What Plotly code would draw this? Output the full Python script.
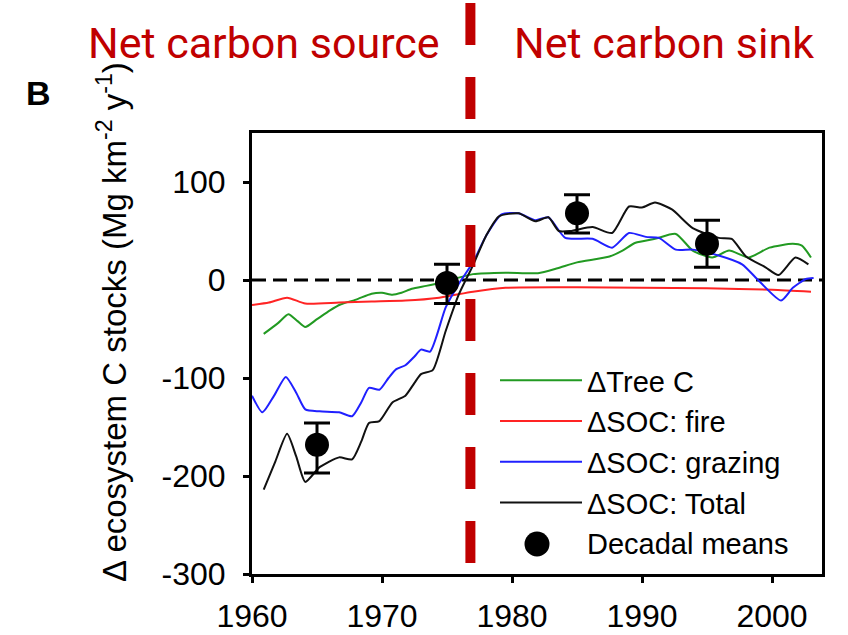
import plotly.graph_objects as go

# ---------------- data ----------------
tree_years = [1960.9, 1962.0, 1962.8, 1963.5, 1964.1, 1965.0, 1966.0, 1966.8, 1968.0, 1969.2,
              1970.0, 1970.8, 1971.5, 1972.3, 1973.4, 1974.4, 1975.5, 1977.0, 1979.5, 1982.0,
              1983.5, 1985.0, 1987.5, 1988.5, 1989.5, 1991.0, 1992.6, 1993.9, 1995.4, 1996.7,
              1998.2, 1999.8, 2001.6, 2002.3, 2003.0]
tree_vals = [-55, -44, -35, -42, -48, -40, -31, -25, -20, -14,
             -13, -15, -13, -9, -6, -3, 1, 6, 7.5, 7,
             12, 18, 24, 30, 38, 42, 47, 30, 23, 30,
             23, 33, 37, 35, 23]

fire_years = [1960.0, 1961.3, 1962.7, 1964.1, 1966.7, 1969.2, 1971.8, 1974.4, 1977.0, 1979.5,
              1985.0, 1990.0, 1995.0, 2000.0, 2003.0]
fire_vals = [-25.5, -23, -18, -24, -23, -22, -21, -18, -12, -8,
             -7.5, -8, -8.5, -10, -12]

graz_years = [1960.0, 1960.8, 1961.7, 1962.6, 1963.4, 1964.1, 1965.2, 1966.7, 1967.7, 1968.4,
              1969.0, 1969.8, 1970.5, 1971.1, 1971.8, 1972.5, 1973.0, 1973.7, 1974.9, 1975.9,
              1977.0, 1978.0, 1979.2, 1980.5, 1981.8, 1982.8, 1984.1, 1986.2, 1987.7, 1989.0,
              1990.3, 1991.3, 1992.6, 1993.9, 1995.9, 1997.7, 1999.0, 2000.7, 2001.6, 2002.6,
              2003.2]
graz_vals = [-118, -135, -118, -99, -115, -132, -134, -135, -139, -125,
             -110, -112, -100, -91, -87, -78, -71, -73, -28, -4,
             18, 45, 67, 68, 61, 64, 43, 42, 33, 48,
             44, 43, 31, 31, 25, 16, -1, -21, -8, 1,
             2]

total_years = [1960.9, 1961.8, 1962.7, 1963.4, 1964.1, 1965.2, 1966.7, 1967.7, 1968.4, 1969.0,
               1969.8, 1970.8, 1971.8, 1972.5, 1973.0, 1973.9, 1974.9, 1975.9, 1977.0, 1978.0,
               1979.0, 1980.5, 1981.8, 1982.8, 1983.6, 1984.5, 1986.2, 1987.7, 1989.0, 1990.0,
               1991.0, 1992.3, 1993.9, 1995.9, 1996.9, 1998.0, 1999.5, 2000.5, 2001.8, 2002.8]
total_vals = [-214, -185, -157, -180, -206, -191, -181, -183, -165, -146,
              -144, -125, -118, -105, -96, -92, -52, -15, 15, 45,
              65, 68, 60, 64, 50, 50, 54, 48, 75, 74,
              79, 72, 53, 43, 42, 24, 13, 5, 23, 16]

decade_years = [1965, 1975, 1985, 1995]
decade_means = [-168, -3, 68, 37]
decade_err_plus = [22, 19, 19, 24]
decade_err_minus = [29, 21, 20, 24]

x_ticks = [1960, 1970, 1980, 1990, 2000]
y_ticks = [-300, -200, -100, 0, 100]
y_tick_labels = ["-300", "-200", "-100", "0", "100"]
transition_year = 1976.8

# ---------------- figure ----------------
FONT = "Liberation Sans, Arial, sans-serif"
W, H = 848, 635
ML, MR, MT, MB = 252, 26, 133, 61
PW, PH = W - ML - MR, H - MT - MB

def px_x(x):
    return (x - ML) / PW

def px_y(y):
    return (H - MB - y) / PH

fig = go.Figure()

series = [
    ("\u0394Tree C", tree_years, tree_vals, "#229a22"),
    ("\u0394SOC: fire", fire_years, fire_vals, "#ff2424"),
    ("\u0394SOC: grazing", graz_years, graz_vals, "#2020ff"),
    ("\u0394SOC: Total", total_years, total_vals, "#111111"),
]
for name, xs, ys, col in series:
    fig.add_trace(go.Scatter(x=xs, y=ys, mode="lines", name=name,
                             line=dict(color=col, width=2, shape="spline", smoothing=0.6)))

fig.add_trace(go.Scatter(
    x=decade_years, y=decade_means, mode="markers", name="Decadal means",
    marker=dict(color="black", size=24),
    error_y=dict(type="data", symmetric=False, array=decade_err_plus,
                 arrayminus=decade_err_minus, color="black", thickness=3, width=13),
))

# zero reference line
fig.add_hline(y=0, line=dict(color="black", width=3, dash="14px,7px"), layer="below")

# transition line (extends above the plotting area)
fig.add_shape(type="line", xref="x", yref="paper", x0=transition_year, x1=transition_year,
              y0=px_y(3), y1=0, line=dict(color="#c00000", width=10, dash="42px,32px"),
              layer="above")

# enlarge the legend key of the decadal means (plotly caps legend marker size)
LEG_DOT_X, LEG_DOT_Y, LEG_DOT_R = 537, 544, 12.5
fig.add_shape(type="circle", xref="paper", yref="paper",
              x0=px_x(LEG_DOT_X - LEG_DOT_R), x1=px_x(LEG_DOT_X + LEG_DOT_R),
              y0=px_y(LEG_DOT_Y + LEG_DOT_R), y1=px_y(LEG_DOT_Y - LEG_DOT_R),
              fillcolor="black", line=dict(color="black", width=0), layer="above")

fig.add_annotation(text="Net carbon source", xref="paper", yref="paper",
                   x=px_x(264), y=px_y(43), xanchor="center", yanchor="middle",
                   showarrow=False, font=dict(family="Roboto, sans-serif", size=43, color="#c00000"))
fig.add_annotation(text="Net carbon sink", xref="paper", yref="paper",
                   x=px_x(664), y=px_y(43), xanchor="center", yanchor="middle",
                   showarrow=False, font=dict(family="Roboto, sans-serif", size=43, color="#c00000"))
fig.add_annotation(text="<b>B</b>", xref="paper", yref="paper",
                   x=px_x(38), y=px_y(93), xanchor="center", yanchor="middle",
                   showarrow=False, font=dict(family=FONT, size=34, color="black"))
fig.add_annotation(text="\u0394 ecosystem C stocks (Mg km<sup>-2</sup> y<sup>-1</sup>)",
                   xref="paper", yref="paper", x=px_x(112), y=px_y(322),
                   xanchor="center", yanchor="middle", textangle=-90,
                   showarrow=False, font=dict(family=FONT, size=33, color="black"))

fig.update_layout(
    width=W, height=H,
    margin=dict(l=ML, r=MR, t=MT, b=MB, autoexpand=False),
    paper_bgcolor="white", plot_bgcolor="white",
    font=dict(family=FONT, size=32, color="black"),
    showlegend=True,
    legend=dict(x=px_x(495), y=px_y(355), xanchor="left", yanchor="top",
                bgcolor="rgba(0,0,0,0)", font=dict(family=FONT, size=29, color="black"),
                itemwidth=82, tracegroupgap=0),
)
fig.update_xaxes(range=[1960, 1960 + PW / 13.0], tickvals=x_ticks, showgrid=False, zeroline=False,
                 showline=True, mirror=True, linecolor="black", linewidth=3, automargin=False,
                 ticks="outside", ticklen=6, tickwidth=3, tickcolor="black",
                 ticklabelstandoff=6, tickfont=dict(size=32))
fig.update_yaxes(range=[-300, 150], tickvals=y_ticks, ticktext=y_tick_labels,
                 showgrid=False, zeroline=False,
                 showline=True, mirror=True, linecolor="black", linewidth=3, automargin=False,
                 ticks="outside", ticklen=6, tickwidth=3, tickcolor="black",
                 ticklabelstandoff=11, tickfont=dict(size=32))

fig.write_html("out.html")
